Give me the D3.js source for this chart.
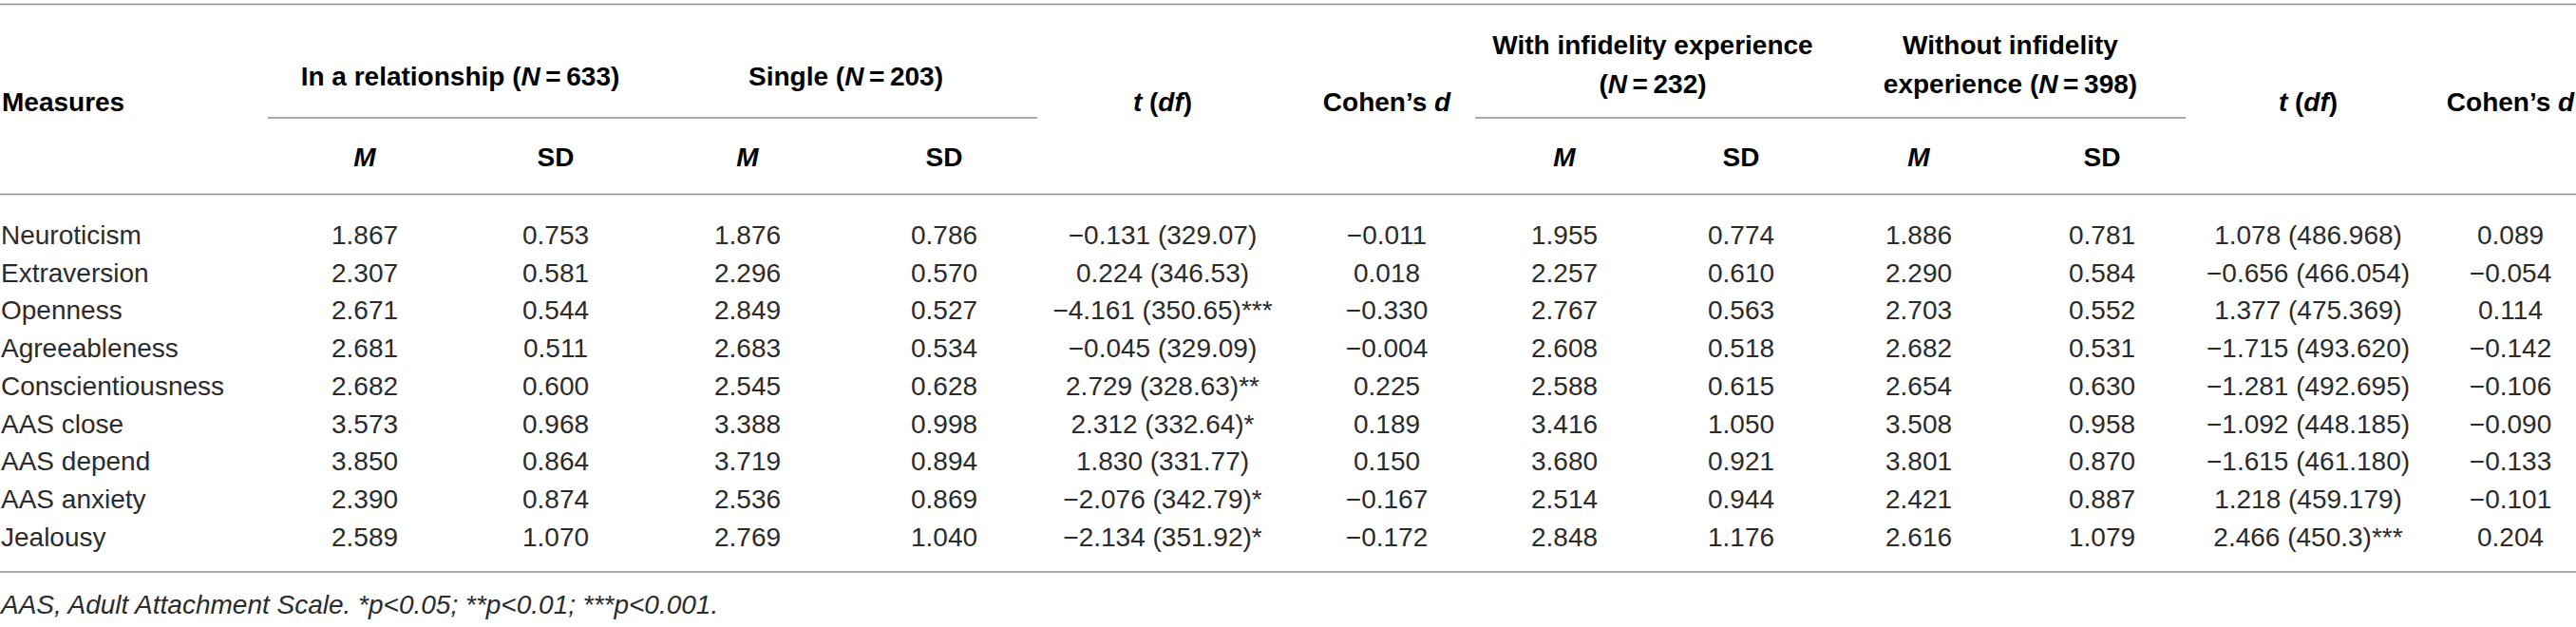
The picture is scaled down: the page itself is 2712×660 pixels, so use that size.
<!DOCTYPE html>
<html>
<head>
<meta charset="utf-8">
<script src="https://cdn.jsdelivr.net/npm/d3@7"></script>
<style>
  body { margin: 0; background: #fff; }
  text { font-family: "Liberation Sans", Arial, Helvetica, sans-serif; }
</style>
</head>
<body>
<div id="table"></div>
<script>
// table values
var measures = ["Neuroticism", "Extraversion", "Openness", "Agreeableness", "Conscientiousness",
                "AAS close", "AAS depend", "AAS anxiety", "Jealousy"];
var relM   = [1.867, 2.307, 2.671, 2.681, 2.682, 3.573, 3.850, 2.390, 2.589];
var relSD  = [0.753, 0.581, 0.544, 0.511, 0.600, 0.968, 0.864, 0.874, 1.070];
var sinM   = [1.876, 2.296, 2.849, 2.683, 2.545, 3.388, 3.719, 2.536, 2.769];
var sinSD  = [0.786, 0.570, 0.527, 0.534, 0.628, 0.998, 0.894, 0.869, 1.040];
var tDf1   = ["\u22120.131 (329.07)", "0.224 (346.53)", "\u22124.161 (350.65)***", "\u22120.045 (329.09)",
              "2.729 (328.63)**", "2.312 (332.64)*", "1.830 (331.77)", "\u22122.076 (342.79)*", "\u22122.134 (351.92)*"];
var d1     = [-0.011, 0.018, -0.330, -0.004, 0.225, 0.189, 0.150, -0.167, -0.172];
var infM   = [1.955, 2.257, 2.767, 2.608, 2.588, 3.416, 3.680, 2.514, 2.848];
var infSD  = [0.774, 0.610, 0.563, 0.518, 0.615, 1.050, 0.921, 0.944, 1.176];
var noInfM = [1.886, 2.290, 2.703, 2.682, 2.654, 3.508, 3.801, 2.421, 2.616];
var noInfSD= [0.781, 0.584, 0.552, 0.531, 0.630, 0.958, 0.870, 0.887, 1.079];
var tDf2   = ["1.078 (486.968)", "\u22120.656 (466.054)", "1.377 (475.369)", "\u22121.715 (493.620)",
              "\u22121.281 (492.695)", "\u22121.092 (448.185)", "\u22121.615 (461.180)", "1.218 (459.179)", "2.466 (450.3)***"];
var d2     = [0.089, -0.054, 0.114, -0.142, -0.106, -0.090, -0.133, -0.101, 0.204];

var footnote = "AAS, Adult Attachment Scale. *p<0.05; **p<0.01; ***p<0.001.";

var width = 2712, height = 660;
var f3 = d3.format(".3f");   // d3 v7 already writes a true minus sign

// column keys -> centre x
var colKeys = ["relM", "relSD", "sinM", "sinSD", "t1", "d1", "infM", "infSD", "noM", "noSD", "t2", "d2"];
var x = d3.scaleOrdinal()
  .domain(colKeys)
  .range([384, 585, 787, 994, 1224, 1460, 1647, 1833, 2020, 2213, 2430, 2643]);

var y = d3.scalePoint()
  .domain(measures)
  .range([247, 565]);

var columns = [
  {key: "relM", vals: relM.map(f3)},
  {key: "relSD", vals: relSD.map(f3)},
  {key: "sinM", vals: sinM.map(f3)},
  {key: "sinSD", vals: sinSD.map(f3)},
  {key: "t1", vals: tDf1},
  {key: "d1", vals: d1.map(f3)},
  {key: "infM", vals: infM.map(f3)},
  {key: "infSD", vals: infSD.map(f3)},
  {key: "noM", vals: noInfM.map(f3)},
  {key: "noSD", vals: noInfSD.map(f3)},
  {key: "t2", vals: tDf2},
  {key: "d2", vals: d2.map(f3)}
];

var svg = d3.select("#table")
  .append("svg")
    .attr("width", width)
    .attr("height", height);

// rules
var ruleColor = "#8c8c8c";
svg.selectAll(".rule")
  .data([4.5, 204.5, 602])
  .enter().append("line")
    .attr("x1", 0).attr("x2", width)
    .attr("y1", function(d) { return d; })
    .attr("y2", function(d) { return d; })
    .attr("stroke", ruleColor)
    .attr("stroke-width", 1.6);

// spanner underlines
svg.selectAll(".span")
  .data([[282, 1092], [1553, 2301]])
  .enter().append("line")
    .attr("x1", function(d) { return d[0]; })
    .attr("x2", function(d) { return d[1]; })
    .attr("y1", 124).attr("y2", 124)
    .attr("stroke", ruleColor)
    .attr("stroke-width", 1.3);

// header text, built from segments so italics can be mixed in
function rich(g, segs, xPos, yPos, anchor) {
  var t = g.append("text")
    .attr("x", xPos)
    .attr("y", yPos)
    .attr("dy", "0.35em")
    .attr("text-anchor", anchor || "middle")
    .style("font-size", "28px")
    .style("font-weight", "bold")
    .attr("fill", "#000");
  segs.forEach(function(s) {
    t.append("tspan")
      .style("font-style", s[1] ? "italic" : "normal")
      .text(s[0]);
  });
  return t;
}

var hdr = svg.append("g").attr("class", "header");
var eq = "\u2009=\u2009";
rich(hdr, [["Measures"]], 2, 107, "start");
rich(hdr, [["In a relationship ("], ["N", 1], [eq + "633)"]], (x("relM") + x("relSD")) / 2, 80);
rich(hdr, [["Single ("], ["N", 1], [eq + "203)"]], (x("sinM") + x("sinSD")) / 2, 80);
rich(hdr, [["t", 1], [" ("], ["df", 1], [")"]], x("t1"), 107);
rich(hdr, [["Cohen\u2019s "], ["d", 1]], x("d1"), 107);
rich(hdr, [["With infidelity experience"]], (x("infM") + x("infSD")) / 2, 47);
rich(hdr, [["("], ["N", 1], [eq + "232)"]], (x("infM") + x("infSD")) / 2, 88);
rich(hdr, [["Without infidelity"]], (x("noM") + x("noSD")) / 2, 47);
rich(hdr, [["experience ("], ["N", 1], [eq + "398)"]], (x("noM") + x("noSD")) / 2, 88);
rich(hdr, [["t", 1], [" ("], ["df", 1], [")"]], x("t2"), 107);
rich(hdr, [["Cohen\u2019s "], ["d", 1]], x("d2"), 107);

["relM", "sinM", "infM", "noM"].forEach(function(k) {
  rich(hdr, [["M", 1]], x(k), 165);
});
["relSD", "sinSD", "infSD", "noSD"].forEach(function(k) {
  rich(hdr, [["SD"]], x(k), 165);
});

// body
var body = svg.append("g").attr("class", "body");

body.selectAll(".label")
  .data(measures)
  .enter().append("text")
    .attr("class", "label")
    .attr("x", 1)
    .attr("y", function(d) { return y(d); })
    .attr("dy", "0.35em")
    .style("font-size", "28px")
    .attr("fill", "#2b2b2b")
    .text(function(d) { return d; });

columns.forEach(function(c) {
  body.selectAll(".c-" + c.key)
    .data(c.vals)
    .enter().append("text")
      .attr("class", "c-" + c.key)
      .attr("x", x(c.key))
      .attr("y", function(d, i) { return y(measures[i]); })
      .attr("dy", "0.35em")
      .attr("text-anchor", "middle")
      .style("font-size", "28px")
      .attr("fill", "#2b2b2b")
      .text(function(d) { return d; });
});

// note under the table
svg.append("text")
  .attr("x", 1)
  .attr("y", 636)
  .attr("dy", "0.35em")
  .style("font-size", "28px")
  .style("font-style", "italic")
  .attr("fill", "#2b2b2b")
  .text(footnote);
</script>
</body>
</html>
